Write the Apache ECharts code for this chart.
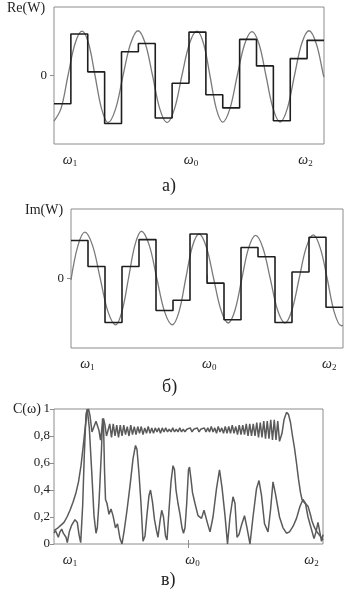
<!DOCTYPE html>
<html>
<head>
<meta charset="utf-8">
<script src="https://cdn.jsdelivr.net/npm/echarts@6/dist/echarts.min.js"></script>
<style>
html,body{margin:0;padding:0;background:#fff;}
#c{width:354px;height:589px;}
</style>
</head>
<body>
<div id="c"></div>
<script>
// ---------- DATA ----------
// Panel a: Re(W) – staircase (16 steps) and smooth curve, x in step units (0..16)
const reSteps = [-0.62, 0.91, 0.08, -1.05, 0.52, 0.70, -0.93, -0.17, 0.95, -0.42, -0.71, 0.79, 0.21, -0.99, 0.37, 0.77];
const reCurve = [[0,-1.0],[0.42,-0.72],[0.83,0],[1.25,0.70],[1.66,0.97],[2.05,0.70],[2.43,0],[2.82,-0.73],[3.2,-1.03],[3.65,-0.73],[4.09,0],[4.54,0.70],[4.98,0.98],[5.41,0.70],[5.84,0],[6.27,-0.73],[6.7,-1.03],[7.14,-0.73],[7.58,0],[8.03,0.70],[8.47,0.97],[8.86,0.70],[9.24,0],[9.62,-0.73],[10.0,-1.02],[10.43,-0.72],[10.86,0],[11.3,0.69],[11.73,0.96],[12.15,0.69],[12.56,0],[12.98,-0.72],[13.4,-1.02],[13.83,-0.72],[14.25,0],[14.68,0.70],[15.11,0.98],[15.54,0.70],[15.97,0],[16,-0.03]];

// Panel b: Im(W)
const imSteps = [0.82, 0.26, -0.95, 0.26, 0.84, -0.69, -0.47, 0.96, -0.10, -0.89, 0.67, 0.47, -0.95, 0.14, 0.89, -0.62];
const imCurve = [[0,-0.03],[0.4,0.70],[0.81,1.0],[1.27,0.71],[1.72,0],[2.17,-0.71],[2.63,-1.0],[3.0,-0.71],[3.38,0],[3.76,0.72],[4.14,1.02],[4.6,0.72],[5.05,0],[5.5,-0.71],[5.96,-1.0],[6.36,-0.71],[6.75,0],[7.14,0.69],[7.53,0.96],[7.96,0.68],[8.39,0],[8.82,-0.68],[9.25,-0.96],[9.65,-0.68],[10.05,0],[10.45,0.66],[10.86,0.93],[11.29,0.66],[11.72,0],[12.15,-0.68],[12.59,-0.96],[13.0,-0.68],[13.42,0],[13.83,0.66],[14.25,0.94],[14.66,0.66],[15.07,0],[15.48,-0.72],[15.9,-1.02],[16,-1.01]];

// Panel c: C(omega), x in band units (0..269)
const cFlatHead = [[0,0.10],[2,0.11],[4,0.12],[7,0.14],[10,0.16],[13,0.20],[16,0.25],[19,0.31],[22,0.38],[24.5,0.46],[27,0.58],[29,0.71],[31,0.85],[33,0.97],[34.5,1.0],[36,0.95],[38,0.83],[40,0.84],[42,0.91],[43.5,0.92],[45,0.84],[46.5,0.77],[48,0.86],[49.5,0.93],[51,0.88],[52.5,0.80]];
const cRippleStart = 54, cRippleStep = 1.75;
const cRipple = [0.80,0.89,0.79,0.89,0.80,0.88,0.79,0.88,0.80,0.88,0.81,0.87,0.80,0.88,0.81,0.87,0.81,0.87,0.82,0.87,
  0.81,0.86,0.82,0.87,0.82,0.86,0.82,0.86,0.83,0.86,0.82,0.86,0.83,0.86,0.83,0.85,0.83,0.86,0.83,0.85,
  0.83,0.86,0.83,0.85,0.83,0.85,0.84,0.86,0.83,0.85,0.84,0.86,0.83,0.85,0.84,0.86,0.83,0.86,0.83,0.87,
  0.83,0.86,0.82,0.87,0.83,0.86,0.82,0.87,0.82,0.87,0.82,0.88,0.82,0.87,0.81,0.88,0.81,0.88,0.81,0.89,
  0.80,0.89,0.80,0.89,0.80,0.90,0.79,0.90,0.79,0.91,0.78,0.91,0.78,0.92,0.77,0.92,0.77,0.91,0.76];
const cFlatTail = [[228,0.82],[230,0.92],[232.5,0.975],[234.5,0.96],[236.5,0.90],[238.5,0.80],[240.5,0.71],[242.5,0.60],[244.5,0.48],[246.5,0.38],[248,0.33],[250,0.31],[252,0.31],[254,0.28],[256,0.23],[258,0.17],[260,0.13],[262,0.10],[264,0.08],[266,0.06],[268,0.04],[269,0.03]];
const cPeaks = [[0,0.08],[1.5,0.10],[2.7,0.11],[4.3,0.05],[6,0.09],[7.7,0.11],[9.3,0.08],[12,0.05],[13.3,0.01],[15.3,0.09],[17.7,0.14],[21,0.18],[23.3,0.16],[25,0.07],[26.7,0.01],[28.7,0.29],[30.3,0.66],[32,0.96],[33.3,1.0],[35.3,0.86],[37.7,0.54],[40,0.21],[42,0.08],[43.3,0.12],[45,0.31],[46.5,0.31],[47.5,0.70],[48.5,0.93],[49.5,0.90],[50.5,0.55],[51.5,0.33],[53,0.30],[55,0.22],[57,0.26],[59,0.21],[61.5,0.12],[63.5,0.15],[66,0.04],[68,0.0],[70,0.09],[73,0.25],[76,0.43],[79,0.63],[81.5,0.73],[83,0.70],[85,0.52],[87,0.30],[89,0.02],[91,0.06],[93,0.22],[95,0.36],[96.5,0.40],[98.5,0.31],[100.5,0.18],[102.5,0.10],[104,0.05],[106,0.17],[107.7,0.25],[109.5,0.20],[111.5,0.06],[113,0.03],[115,0.25],[117,0.46],[119,0.58],[120.5,0.55],[122,0.40],[124,0.30],[126,0.22],[128,0.12],[129.5,0.08],[131,0.12],[132.7,0.30],[134.5,0.55],[135.5,0.57],[137,0.48],[138.5,0.38],[141,0.30],[144,0.21],[147.5,0.19],[150,0.25],[152,0.24],[154,0.14],[156,0.09],[159,0.20],[162.5,0.41],[165.5,0.55],[168,0.42],[171,0.21],[173.5,0.0],[176,0.20],[179,0.35],[181,0.30],[183,0.05],[185,0.07],[187.5,0.14],[190.5,0.21],[193,0.12],[196,0.0],[199,0.20],[202.5,0.41],[205,0.47],[207.5,0.36],[210.5,0.15],[214,0.09],[216.5,0.25],[219,0.46],[221.5,0.37],[225.5,0.20],[229,0.12],[232.5,0.08],[235.5,0.09],[239,0.13],[242.5,0.19],[246,0.28],[249,0.33],[251.5,0.30],[254,0.20],[257,0.12],[260,0.04],[262,0.09],[264,0.16],[266,0.08],[267.5,0.02],[269,0.07]];

// Axis marks and labels
const omegaSubs = ['1', '0', '2'];
const omegaPosA = [0.95, 8.12, 14.9];
const omegaPosB = [0.97, 8.13, 15.19];
const omegaPosC = [16, 138.5, 257.5];
const centerTickAB = 8, centerTickC = 134.5;
const panelTitles = ['Re(W)', 'Im(W)', 'C(ω)'];
const panelLetters = ['а)', 'б)', 'в)'];

// ---------- BUILD ----------
const serif = '"Liberation Serif","DejaVu Serif",serif';
const frame = '#8c8c8c';
function stepPairs(arr){ const d = arr.map((v,i)=>[i,v]); d.push([arr.length, arr[arr.length-1]]); return d; }
const flatCurve = cFlatHead.concat(cRipple.map((v,i)=>[cRippleStart + i*cRippleStep, v]), cFlatTail);

function omegaAxis(grid, pos, min, max, center){
  return {
    type:'value', gridIndex:grid, position:'bottom', min:min, max:max,
    axisLine:{show:false}, splitLine:{show:false},
    axisTick:{show:true, inside:true, length:4, customValues:[center], lineStyle:{color:frame}},
    axisLabel:{show:true, margin:8, customValues:pos,
      formatter:function(v){ let i = pos.indexOf(v); if(i<0){ i = pos.findIndex(p=>Math.abs(p-v)<1e-6);} return '{w|ω}{s|' + omegaSubs[i] + '}'; },
      rich:{ w:{fontFamily:serif, fontStyle:'italic', fontSize:14, color:'#222', lineHeight:16},
             s:{fontFamily:serif, fontSize:9, color:'#222', verticalAlign:'bottom', lineHeight:8} } }
  };
}
function topAxis(grid, min, max, center){
  return { type:'value', gridIndex:grid, position:'top', min:min, max:max,
    axisLine:{show:false}, splitLine:{show:false}, axisLabel:{show:false},
    axisTick:{show:true, inside:true, length:4, customValues:[center], lineStyle:{color:frame}} };
}
function zeroYAxis(grid, margin){
  return { type:'value', gridIndex:grid, position:'left', min:-1.5, max:1.5,
    axisLine:{show:false}, splitLine:{show:false},
    axisTick:{show:true, inside:false, length:3, customValues:[0], lineStyle:{color:frame}},
    axisLabel:{show:true, customValues:[0], margin:margin, fontFamily:serif, fontSize:13, color:'#222', formatter:v=>'0'} };
}
function zeroYRight(grid){
  return { type:'value', gridIndex:grid, position:'right', min:-1.5, max:1.5,
    axisLine:{show:false}, splitLine:{show:false}, axisLabel:{show:false},
    axisTick:{show:true, inside:true, length:4, customValues:[0], lineStyle:{color:frame}} };
}

const option = {
  animation:false,
  backgroundColor:'#fff',
  grid:[
    {left:54, top:7, width:270, height:137, show:true, borderColor:frame, borderWidth:1, backgroundColor:'transparent'},
    {left:71, top:209, width:272, height:139, show:true, borderColor:frame, borderWidth:1, backgroundColor:'transparent'},
    {left:54, top:409, width:269, height:135, show:true, borderColor:frame, borderWidth:1, backgroundColor:'transparent'}
  ],
  xAxis:[
    omegaAxis(0, omegaPosA, 0, 16, centerTickAB), topAxis(0, 0, 16, centerTickAB),
    omegaAxis(1, omegaPosB, 0, 16, centerTickAB), topAxis(1, 0, 16, centerTickAB),
    omegaAxis(2, omegaPosC, 0, 269, centerTickC), topAxis(2, 0, 269, centerTickC)
  ],
  yAxis:[
    zeroYAxis(0, 7), zeroYRight(0),
    zeroYAxis(1, 7), zeroYRight(1),
    { type:'value', gridIndex:2, position:'left', min:0, max:1, interval:0.2,
      axisLine:{show:false}, splitLine:{show:false},
      axisTick:{show:true, inside:false, length:3, lineStyle:{color:frame}},
      axisLabel:{show:true, margin:4, fontFamily:serif, fontSize:13, color:'#222',
        formatter:v=>String(+v.toFixed(1)).replace('.', ',')} },
    { type:'value', gridIndex:2, position:'right', min:0, max:1, interval:0.2,
      axisLine:{show:false}, splitLine:{show:false}, axisLabel:{show:false},
      axisTick:{show:true, inside:true, length:4, lineStyle:{color:frame}} }
  ],
  series:[
    {type:'line', xAxisIndex:0, yAxisIndex:0, data:reCurve, smooth:0.35, showSymbol:false, lineStyle:{color:'#7a7a7a', width:1.3}},
    {type:'line', xAxisIndex:0, yAxisIndex:0, data:stepPairs(reSteps), step:'end', showSymbol:false, lineStyle:{color:'#1e1e1e', width:1.6}},
    {type:'line', xAxisIndex:2, yAxisIndex:2, data:imCurve, smooth:0.35, showSymbol:false, lineStyle:{color:'#7a7a7a', width:1.3}},
    {type:'line', xAxisIndex:2, yAxisIndex:2, data:stepPairs(imSteps), step:'end', showSymbol:false, lineStyle:{color:'#1e1e1e', width:1.6}},
    {type:'line', xAxisIndex:4, yAxisIndex:4, data:flatCurve, showSymbol:false, lineStyle:{color:'#5a5a5a', width:1.5}},
    {type:'line', xAxisIndex:4, yAxisIndex:4, data:cPeaks, showSymbol:false, lineStyle:{color:'#5a5a5a', width:1.5}}
  ],
  graphic:[
    {type:'text', left:7, top:1, style:{text:panelTitles[0], font:'14px '+serif, fill:'#222'}},
    {type:'text', left:25, top:203, style:{text:panelTitles[1], font:'14px '+serif, fill:'#222'}},
    {type:'text', left:13, top:402, style:{text:panelTitles[2], font:'14px '+serif, fill:'#222'}},
    {type:'text', left:162, top:177, style:{text:panelLetters[0], font:'18px '+serif, fill:'#222'}},
    {type:'text', left:162, top:378, style:{text:panelLetters[1], font:'18px '+serif, fill:'#222'}},
    {type:'text', left:161, top:571, style:{text:panelLetters[2], font:'18px '+serif, fill:'#222'}}
  ]
};

const chart = echarts.init(document.getElementById('c'), null, {renderer:'canvas', width:354, height:589});
chart.setOption(option);
</script>
</body>
</html>
